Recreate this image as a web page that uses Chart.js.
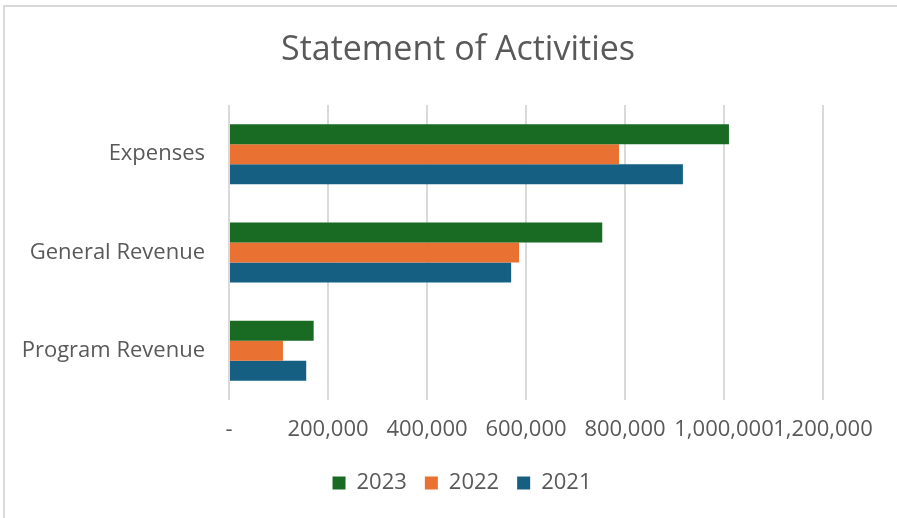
<!DOCTYPE html>
<html>
<head>
<meta charset="utf-8">
<script src="https://cdn.jsdelivr.net/npm/chart.js@4"></script>
<style>
  html, body { margin: 0; padding: 0; background: #fff; overflow: hidden; }
  #wrap { position: relative; width: 897px; height: 518px; }
  #frame { position: absolute; left: 3px; top: 5px; width: 1000px; height: 600px; border-top: 2px solid #d9d9d9; border-left: 2px solid #d9d9d9; pointer-events: none; }
  canvas { position: absolute; left: 0; top: 0; }
</style>
</head>
<body>
<div id="wrap">
  <canvas id="c" width="897" height="518"></canvas>
  <div id="frame"></div>
</div>
<script>
const chartTitle = "Statement of Activities";
const categories = ["Expenses", "General Revenue", "Program Revenue"];
const seriesNames = ["2023", "2022", "2021"];
const values2023 = [1010000, 754000, 171000];
const values2022 = [788000, 586000, 109000];
const values2021 = [917000, 570000, 156000];
const tickValues = [0, 200000, 400000, 600000, 800000, 1000000, 1200000];

const colors = ["#196B24", "#E97132", "#156082"];
const textColor = "#595959";
const fontFamily = "'Open Sans', 'Liberation Sans', sans-serif";

const titlePlugin = {
  id: "customTitle",
  afterLayout(chart) {
    // center the legend on the whole frame rather than the padded box
    const lg = chart.legend;
    if (lg) { lg.left = 6; lg.right = 918; }
  },
  afterDraw(chart) {
    const ctx = chart.ctx;
    ctx.save();
    ctx.font = "normal 34px " + fontFamily;
    ctx.fillStyle = textColor;
    ctx.textAlign = "center";
    ctx.textBaseline = "middle";
    ctx.fillText(chartTitle, 458, 50);
    ctx.restore();
  }
};

new Chart(document.getElementById("c"), {
  type: "bar",
  data: {
    labels: categories,
    datasets: [
      { label: seriesNames[0], data: values2023, backgroundColor: colors[0] },
      { label: seriesNames[1], data: values2022, backgroundColor: colors[1] },
      { label: seriesNames[2], data: values2021, backgroundColor: colors[2] }
    ]
  },
  plugins: [titlePlugin],
  options: {
    indexAxis: "y",
    responsive: false,
    animation: false,
    devicePixelRatio: 1,
    layout: { padding: { top: 105, left: 0, right: 74, bottom: 14 } },
    datasets: { bar: { categoryPercentage: 0.61, barPercentage: 1.0 } },
    plugins: {
      title: { display: false },
      legend: {
        position: "bottom",
        labels: {
          color: textColor,
          font: { family: fontFamily, size: 22 },
          boxWidth: 13,
          boxHeight: 13,
          padding: 18
        }
      },
      tooltip: { enabled: false }
    },
    scales: {
      x: {
        min: 0,
        max: 1200000,
        afterBuildTicks: s => { s.ticks = tickValues.map(v => ({ value: v })); },
        afterFit: s => { s.height = 54; },
        border: { display: false },
        grid: { color: "#d9d9d9", lineWidth: 2, drawTicks: false },
        ticks: {
          color: textColor,
          font: { family: fontFamily, size: 22 },
          padding: 17,
          maxRotation: 0,
          autoSkip: false,
          callback: v => v === 0 ? "-" : Number(v).toLocaleString("en-US")
        }
      },
      y: {
        afterFit: s => { s.width = 229; },
        border: { display: false },
        grid: { display: false, drawTicks: false },
        ticks: {
          color: textColor,
          font: { family: fontFamily, size: 22 },
          padding: 24
        }
      }
    }
  }
});
</script>
</body>
</html>
